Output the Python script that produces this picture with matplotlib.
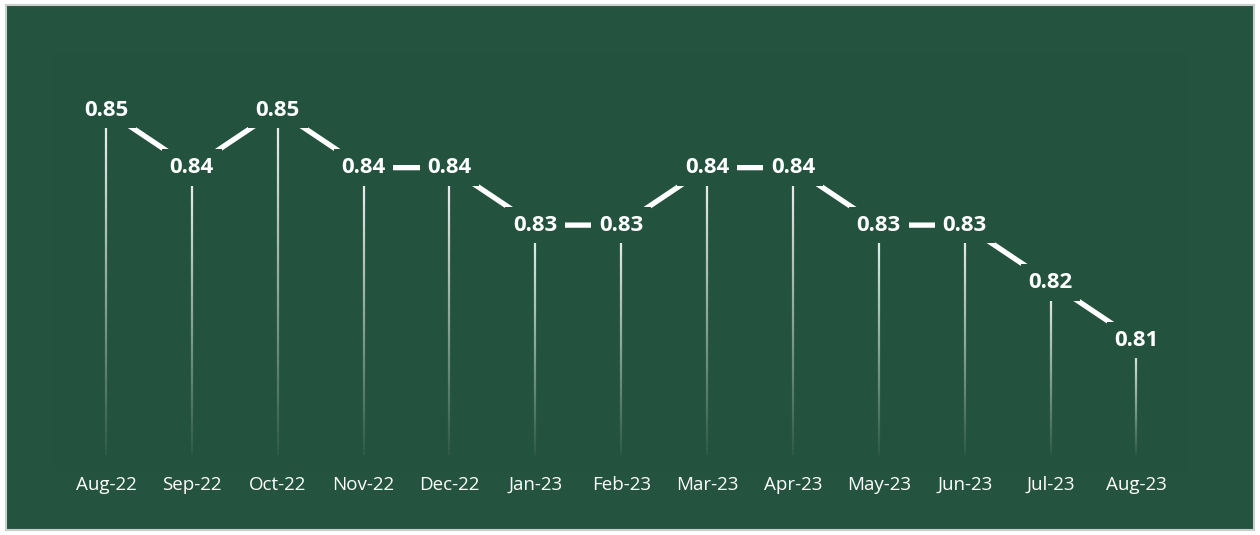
import numpy as np
import matplotlib.pyplot as plt
from matplotlib.collections import LineCollection
from matplotlib.patches import Rectangle, FancyBboxPatch

months = ["Aug-22", "Sep-22", "Oct-22", "Nov-22", "Dec-22", "Jan-23", "Feb-23",
          "Mar-23", "Apr-23", "May-23", "Jun-23", "Jul-23", "Aug-23"]
values = [0.85, 0.84, 0.85, 0.84, 0.84, 0.83, 0.83, 0.84, 0.84, 0.83, 0.83, 0.82, 0.81]

bg = "#24543f"
inner = "#23523e"
plt.rcParams['font.family'] = ['Open Sans', 'DejaVu Sans']

fig = plt.figure(figsize=(12.6, 5.35), dpi=100, facecolor="white")
# outer frame of the chart
fig.patches.append(Rectangle((0.005, 0.009), 0.99, 0.982, transform=fig.transFigure,
                             facecolor=bg, edgecolor="#c8cfcc", linewidth=1.5, zorder=-1))

ax = fig.add_axes([0.05, 0.1495, 0.886, 0.752])
ax.set_facecolor("none")
x = np.arange(len(months))
ymin = 0.79
ax.set_xlim(-0.5, len(months) - 0.5)
ax.set_ylim(ymin, 0.86)

# faint inner plot area
ax.add_patch(FancyBboxPatch((-0.6, ymin - 0.0027), len(months) + 0.2, 0.0727,
                            boxstyle="round,pad=0,rounding_size=0.1", mutation_aspect=0.01,
                            facecolor=inner, edgecolor="none", zorder=0, clip_on=False))

# drop lines with fade towards the bottom
n = 60
for xi, yi in zip(x, values):
    ys = np.linspace(yi, ymin, n + 1)
    segs = [[(xi, ys[k]), (xi, ys[k + 1])] for k in range(n)]
    alphas = np.linspace(0.95, 0.05, n)
    cols = [(1, 1, 1, a) for a in alphas]
    ax.add_collection(LineCollection(segs, colors=cols, linewidths=1.6, zorder=1))

ax.plot(x, values, color="white", linewidth=3.8, solid_capstyle="butt", zorder=2)

for xi, yi in zip(x, values):
    ax.text(xi, yi, f"{yi:.2f}", ha="center", va="center", color="white",
            fontsize=16, fontweight="bold", zorder=3,
            bbox=dict(boxstyle="square,pad=0.35", facecolor=inner, edgecolor="none"))

ax.set_xticks(x)
ax.set_xticklabels(months, color="white", fontsize=13.5)
ax.tick_params(axis="x", length=0, pad=15)
ax.set_yticks([])
for s in ax.spines.values():
    s.set_visible(False)

fig.savefig("out.png", dpi=100, facecolor="white")
